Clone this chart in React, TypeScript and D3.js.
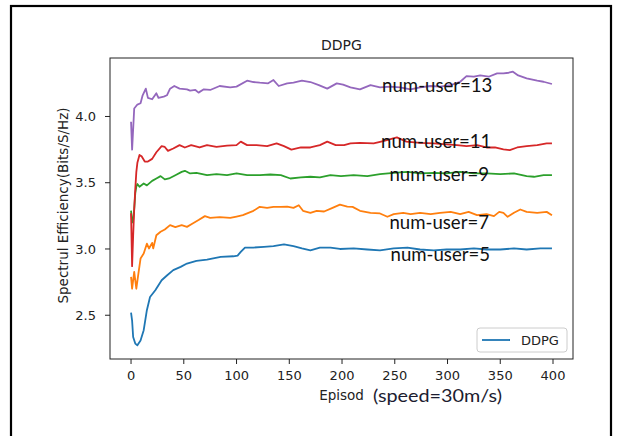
import React from "react";
import * as d3 from "d3";

// Spectral efficiency per episode, one series per number of users: [episode, value]
const user5: [number, number][] = [
  [0, 2.52], [1, 2.46], [2, 2.336], [4, 2.286], [6, 2.273], [9, 2.31], [12, 2.387], [15, 2.538],
  [18, 2.638], [23, 2.689], [29, 2.764], [34, 2.8], [40, 2.84], [47, 2.865], [53, 2.89], [62, 2.91],
  [72, 2.92], [85, 2.94], [97, 2.945], [101, 2.95], [104, 2.978], [108, 3.011], [116, 3.011],
  [126, 3.016], [135, 3.021], [145, 3.034], [154, 3.021], [162, 3.004], [170, 2.99], [179, 3.011],
  [189, 3.011], [198, 3.0], [211, 3.004], [224, 2.996], [236, 2.99], [249, 3.004], [262, 3.011],
  [274, 2.996], [287, 2.99], [299, 2.996], [312, 2.996], [325, 3.004], [337, 2.996], [350, 2.996],
  [363, 3.004], [375, 2.996], [388, 3.004], [399, 3.004],
];

const user7: [number, number][] = [
  [0, 2.79], [1, 2.7], [3, 2.827], [5, 2.7], [7, 2.815], [9, 2.928], [12, 2.966], [15, 3.04],
  [17, 3.004], [20, 3.046], [21, 3.004], [24, 3.104], [28, 3.13], [32, 3.147], [37, 3.18],
  [42, 3.165], [48, 3.18], [53, 3.167], [58, 3.19], [64, 3.218], [70, 3.248], [75, 3.235],
  [84, 3.24], [94, 3.235], [100, 3.245], [106, 3.255], [116, 3.288], [122, 3.318], [129, 3.31],
  [135, 3.318], [142, 3.318], [148, 3.32], [154, 3.31], [159, 3.33], [163, 3.288], [170, 3.273],
  [176, 3.288], [183, 3.283], [191, 3.31], [198, 3.335], [205, 3.32], [210, 3.318], [217, 3.288],
  [227, 3.273], [236, 3.268], [243, 3.243], [249, 3.263], [258, 3.273], [265, 3.263], [274, 3.273],
  [284, 3.263], [293, 3.273], [303, 3.28], [312, 3.263], [320, 3.28], [328, 3.255], [337, 3.263],
  [344, 3.248], [349, 3.28], [353, 3.273], [357, 3.243], [363, 3.273], [369, 3.298], [375, 3.28],
  [385, 3.273], [394, 3.28], [399, 3.255],
];

const user9: [number, number][] = [
  [0, 3.29], [1, 3.2], [2, 3.22], [3, 3.3], [4, 3.42], [5, 3.47], [6, 3.49], [8, 3.47],
  [12, 3.494], [15, 3.48], [20, 3.514], [24, 3.532], [28, 3.55], [32, 3.525], [36, 3.532],
  [42, 3.557], [48, 3.582], [51, 3.59], [56, 3.57], [62, 3.575], [72, 3.557], [81, 3.565],
  [91, 3.557], [100, 3.57], [110, 3.557], [122, 3.557], [132, 3.562], [142, 3.557], [151, 3.532],
  [161, 3.54], [170, 3.545], [179, 3.54], [189, 3.557], [199, 3.55], [211, 3.557], [224, 3.55],
  [236, 3.565], [249, 3.575], [262, 3.582], [274, 3.57], [287, 3.575], [299, 3.57], [312, 3.582],
  [325, 3.57], [337, 3.57], [350, 3.565], [363, 3.57], [375, 3.55], [382, 3.545], [391, 3.557],
  [399, 3.557],
];

const user11: [number, number][] = [
  [0, 3.27], [1, 2.87], [2, 3.1], [3, 3.3], [4, 3.45], [5, 3.58], [6, 3.65], [8, 3.71],
  [10, 3.7], [13, 3.66], [16, 3.66], [20, 3.68], [24, 3.73], [29, 3.776], [32, 3.77], [35, 3.74],
  [40, 3.758], [46, 3.784], [51, 3.766], [57, 3.784], [65, 3.766], [72, 3.784], [81, 3.77],
  [91, 3.78], [100, 3.784], [104, 3.81], [110, 3.784], [119, 3.784], [129, 3.776], [138, 3.797],
  [145, 3.776], [152, 3.75], [161, 3.766], [170, 3.766], [179, 3.784], [186, 3.81], [194, 3.784],
  [202, 3.784], [208, 3.797], [217, 3.8], [230, 3.797], [239, 3.814], [252, 3.842], [261, 3.81],
  [274, 3.8], [287, 3.797], [299, 3.79], [309, 3.784], [318, 3.776], [328, 3.784], [337, 3.766],
  [345, 3.766], [353, 3.751], [359, 3.746], [366, 3.766], [375, 3.776], [385, 3.784], [394, 3.797],
  [399, 3.797],
];

const user13: [number, number][] = [
  [0, 3.96], [1, 3.75], [3, 4.06], [6, 4.09], [9, 4.1], [11, 4.16], [14, 4.21], [16, 4.14],
  [20, 4.13], [24, 4.175], [26, 4.14], [31, 4.15], [34, 4.16], [37, 4.21], [41, 4.23], [46, 4.21],
  [53, 4.205], [56, 4.195], [61, 4.2], [64, 4.18], [69, 4.205], [75, 4.2], [84, 4.23], [94, 4.22],
  [100, 4.225], [110, 4.27], [116, 4.26], [122, 4.255], [130, 4.25], [135, 4.275], [140, 4.23],
  [148, 4.25], [154, 4.255], [162, 4.27], [170, 4.26], [178, 4.237], [186, 4.21], [195, 4.25],
  [201, 4.24], [208, 4.22], [217, 4.205], [227, 4.237], [236, 4.22], [246, 4.225], [255, 4.22],
  [265, 4.205], [274, 4.22], [284, 4.23], [293, 4.225], [303, 4.237], [312, 4.262], [318, 4.305],
  [325, 4.3], [331, 4.31], [339, 4.3], [347, 4.325], [353, 4.325], [358, 4.33], [362, 4.338],
  [367, 4.31], [375, 4.288], [385, 4.27], [391, 4.262], [399, 4.245],
];

const seriesList = [user5, user7, user9, user11, user13];
const seriesColors = ["#1f77b4", "#ff7f0e", "#2ca02c", "#d62728", "#9467bd"];

// Text notes naming each curve: [label, episode, value at the text baseline]
const noteLabels = ["num-user=13", "num-user=11", "num-user=9", "num-user=7", "num-user=5"];
const noteEpisodes = [238, 237, 245, 245, 246];
const noteValues = [4.184, 3.761, 3.512, 3.153, 2.912];

const xTicks = [0, 50, 100, 150, 200, 250, 300, 350, 400];
const yTicks = [2.5, 3.0, 3.5, 4.0];

const W = 617;
const H = 436;
const plot = { left: 110, right: 573, top: 58, bottom: 359 };

export default function App() {
  const allX = seriesList.flatMap((s) => s.map((d) => d[0]));
  const allY = seriesList.flatMap((s) => s.map((d) => d[1]));
  const [x0, x1] = d3.extent(allX) as [number, number];
  const [y0, y1] = d3.extent(allY) as [number, number];
  const mx = (x1 - x0) * 0.05;
  const my = (y1 - y0) * 0.05;

  const x = d3.scaleLinear().domain([x0 - mx, x1 + mx]).range([plot.left, plot.right]);
  const y = d3.scaleLinear().domain([y0 - my, y1 + my]).range([plot.bottom, plot.top]);

  const line = d3
    .line<[number, number]>()
    .x((d) => x(d[0]))
    .y((d) => y(d[1]));

  const tickFont = "'DejaVu Sans', sans-serif";
  const noteFont = "Lato, 'Open Sans', sans-serif";
  const cx = (plot.left + plot.right) / 2;
  const cy = (plot.top + plot.bottom) / 2;

  return (
    <div style={{ position: "fixed", left: 0, top: 0 }}>
      <svg width={W} height={H} style={{ display: "block", background: "#fff" }}>
        <rect x={11} y={6} width={600} height={440} fill="#fff" stroke="#000" strokeWidth={2.2} />

        <text x={cx} y={50} textAnchor="middle" fontFamily={tickFont} fontSize={14} fill="#222">
          DDPG
        </text>

        <g>
          {seriesList.map((s, i) => (
            <path
              key={i}
              d={line(s) ?? ""}
              fill="none"
              stroke={seriesColors[i]}
              strokeWidth={1.8}
              strokeLinejoin="round"
            />
          ))}
        </g>

        {/* spines */}
        <rect
          x={plot.left}
          y={plot.top}
          width={plot.right - plot.left}
          height={plot.bottom - plot.top}
          fill="none"
          stroke="#222"
          strokeWidth={1}
        />

        {/* x axis */}
        <g>
          {xTicks.map((t) => (
            <g key={t} transform={`translate(${x(t)},${plot.bottom})`}>
              <line y2={5} stroke="#222" />
              <text y={21} textAnchor="middle" fontFamily={tickFont} fontSize={13} fill="#222">
                {t}
              </text>
            </g>
          ))}
        </g>

        {/* y axis */}
        <g>
          {yTicks.map((t) => (
            <g key={t} transform={`translate(${plot.left},${y(t)})`}>
              <line x2={-5} stroke="#222" />
              <text x={-14} dy="0.36em" textAnchor="end" fontFamily={tickFont} fontSize={13} fill="#222">
                {t.toFixed(1)}
              </text>
            </g>
          ))}
        </g>

        <text x={cx} y={400} textAnchor="middle" fontFamily={tickFont} fontSize={13.5} fill="#222">
          Episod
        </text>
        <text
          x={373}
          y={402}
          fontFamily={noteFont}
          fontSize={17.5}
          textLength={129}
          lengthAdjust="spacingAndGlyphs"
          fill="#1c1c30"
        >
          (speed=30m/s)
        </text>

        <text
          transform={`translate(68,${cy - 3}) rotate(-90)`}
          textAnchor="middle"
          fontFamily={tickFont}
          fontSize={13.5}
          fill="#222"
        >
          Spectrul Efficiency(Bits/S/Hz)
        </text>

        {noteLabels.map((label, i) => (
          <text
            key={label}
            x={x(noteEpisodes[i])}
            y={y(noteValues[i])}
            fontFamily={noteFont}
            fontSize={18.6}
            fill="#111"
          >
            {label}
          </text>
        ))}

        {/* legend */}
        <g transform={`translate(${plot.right - 96},${plot.bottom - 31})`}>
          <rect width={90} height={24} rx={3} fill="#fff" fillOpacity={0.8} stroke="#ccc" />
          <line x1={5} x2={33} y1={12} y2={12} stroke={seriesColors[0]} strokeWidth={1.8} />
          <text x={44} y={16.5} fontFamily={tickFont} fontSize={13} fill="#222">
            DDPG
          </text>
        </g>
      </svg>
    </div>
  );
}
